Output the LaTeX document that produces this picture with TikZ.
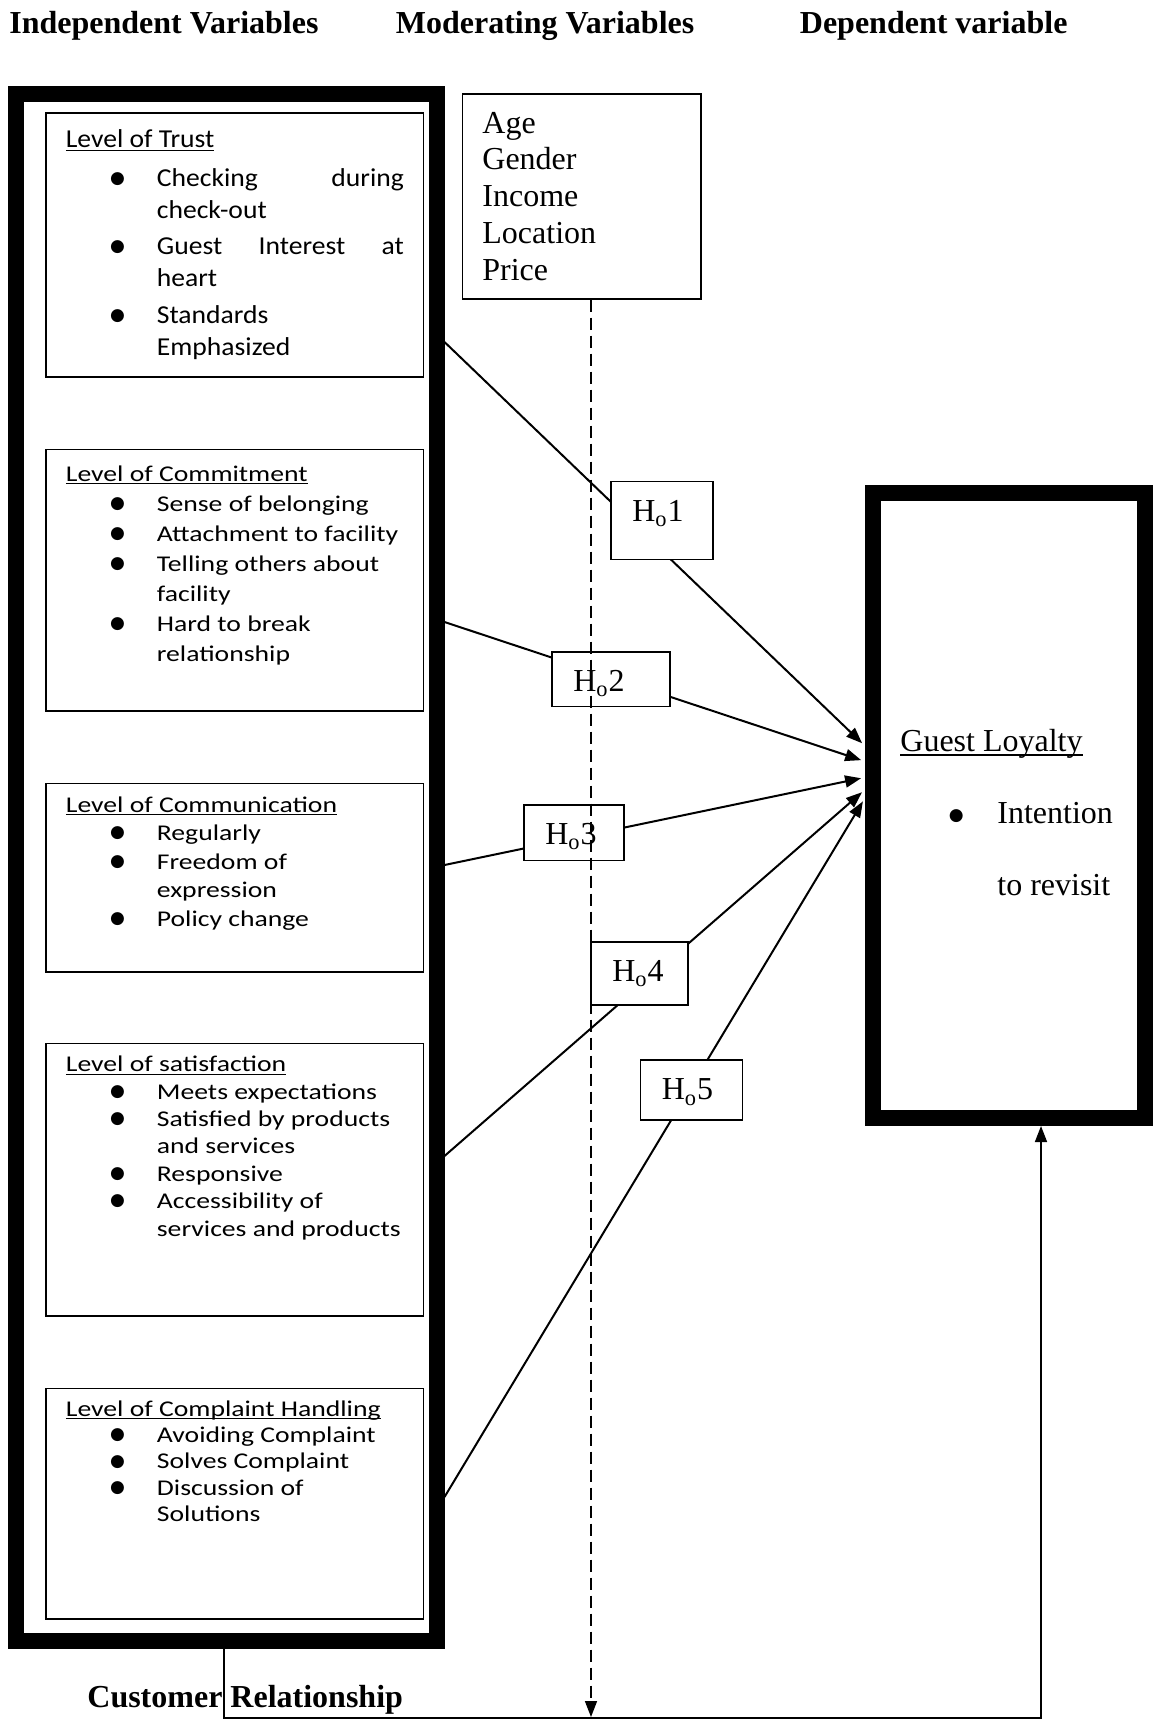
\documentclass[tikz,border=0pt]{standalone}
\usepackage{fontspec}
\setmainfont{Liberation Serif}
\newfontfamily\trustfont[FakeStretch=1.07]{Carlito}
\newfontfamily\boxfont[FakeStretch=1.23]{Carlito}
\newfontfamily\dotfont{DejaVu Sans}
\usetikzlibrary{arrows.meta}

\newcommand{\lineunder}[1]{\setbox0\hbox{#1}\rlap{\rule[-0.15em]{\wd0}{0.07em}}\box0}
\newcommand{\bigdot}{\raisebox{1.4pt}{\dotfont\fontsize{8.5pt}{8.5pt}\selectfont ●}}
\newcommand{\bul}{\makebox[45.5pt][l]{\hspace*{25.85pt}\makebox[0pt]{\bigdot}}}
\newcommand{\glbul}{\makebox[48.5pt][l]{\hspace*{28pt}\makebox[0pt]{\bigdot}}}

\tikzset{
  frame/.style={draw, line width=8pt, inner sep=0pt, anchor=north west},
  panel/.style={draw, line width=0.8pt, inner sep=0pt, anchor=north west},
  hyp/.style={panel, fill=white, align=left, text height=20pt, font=\fontsize{16pt}{19pt}\selectfont},
  txt/.style={anchor=base west, inner sep=0pt},
  head/.style={txt, font=\fontsize{16pt}{19pt}\selectfont\bfseries},
  link/.style={line width=1pt, shorten >=2pt, -{Triangle[length=8pt,width=6pt]}},
  guide/.style={line width=0.8pt, -{Triangle[length=8pt,width=6pt]}},
}

\begin{document}
\begin{tikzpicture}[x=0.5pt, y=-0.5pt]
  \useasboundingbox (0,0) rectangle (1155,1720);
  % Headings
  \node[head] (indep) at (9,33) {Independent Variables};
  \node[head] (moder) at (395.5,33) {Moderating Variables};
  \node[head] (depen) at (799.5,33) {Dependent variable};

  % Independent variables: thick frame and its five boxes
  \node[frame, minimum width=210.25pt, minimum height=773.5pt] (iv) at (8,85.5) {};
  \node[panel, minimum width=188.75pt, minimum height=132pt] (trust) at (45,112) {};
  \node[panel, minimum width=188.75pt, minimum height=130.7pt] (commit) at (45,448.6) {};
  \node[panel, minimum width=188.75pt, minimum height=94.25pt] (comm) at (45,782.5) {};
  \node[panel, minimum width=188.75pt, minimum height=136.15pt] (satis) at (45,1042.7) {};
  \node[panel, minimum width=188.75pt, minimum height=115.25pt] (compl) at (45,1387.5) {};

  \node[txt, font=\trustfont\fontsize{12.9pt}{16pt}\selectfont] (trusttxt) at (65.5,147.5) {\begin{tabular}[t]{@{}l@{}l@{}}
    \multicolumn{2}{@{}l@{}}{\lineunder{Level of Trust}}\\[3.25pt]
    \bul & \makebox[123.5pt][s]{Checking\hfill during}\\
     & check-out\\[2.3pt]
    \bul & \makebox[123.5pt][s]{Guest\hfill Interest\hfill at}\\
     & heart\\[2.3pt]
    \bul & Standards\\
     & Emphasized
  \end{tabular}};
  \node[txt, font=\boxfont\fontsize{11.25pt}{15pt}\selectfont] (committxt) at (65.5,481) {\begin{tabular}[t]{@{}l@{}l@{}}
    \multicolumn{2}{@{}l@{}}{\lineunder{Level of Commitment}}\\
    \bul & Sense of belonging\\
    \bul & Attachment to facility\\
    \bul & Telling others about\\
     & facility\\
    \bul & Hard to break\\
     & relationship
  \end{tabular}};
  \node[txt, font=\boxfont\fontsize{11.25pt}{14.25pt}\selectfont] (commtxt) at (65.5,812) {\begin{tabular}[t]{@{}l@{}l@{}}
    \multicolumn{2}{@{}l@{}}{\lineunder{Level of Communication}}\\
    \bul & Regularly\\
    \bul & Freedom of\\
     & expression\\
    \bul & Policy change
  \end{tabular}};
  \node[txt, font=\boxfont\fontsize{11.25pt}{13.7pt}\selectfont] (satistxt) at (65.5,1071.7) {\begin{tabular}[t]{@{}l@{}l@{}}
    \multicolumn{2}{@{}l@{}}{\lineunder{Level of satisfaction}}\\
    \bul & Meets expectations\\
    \bul & Satisfied by products\\
     & and services\\
    \bul & Responsive\\
    \bul & Accessibility of\\
     & services and products
  \end{tabular}};
  \node[txt, font=\boxfont\fontsize{11.25pt}{13.2pt}\selectfont] (compltxt) at (65.5,1416) {\begin{tabular}[t]{@{}l@{}l@{}}
    \multicolumn{2}{@{}l@{}}{\lineunder{Level of Complaint Handling}}\\
    \bul & Avoiding Complaint\\
    \bul & Solves Complaint\\
    \bul & Discussion of\\
     & Solutions
  \end{tabular}};

  % Moderating variables
  \node[panel, minimum width=119.25pt, minimum height=102.5pt] (mod) at (461.5,93) {};
  \node[txt, font=\fontsize{16pt}{18.375pt}\selectfont] (modtxt) at (482,133) {\begin{tabular}[t]{@{}l@{}}Age\\Gender\\Income\\Location\\Price\end{tabular}};

  % Dependent variable
  \node[frame, minimum width=136pt, minimum height=312.5pt] (gl) at (865,485) {};
  \node[txt, font=\fontsize{16pt}{36pt}\selectfont] (gltxt) at (900,751) {\begin{tabular}[t]{@{}l@{}l@{}}
    \multicolumn{2}{@{}l@{}}{\lineunder{Guest Loyalty}}\\
    \glbul & Intention\\
     & to revisit
  \end{tabular}};

  % Arrows from the frame to guest loyalty
  \coordinate (s1) at (iv.east |- 0,342);
  \coordinate (s2) at (iv.east |- 0,622);
  \coordinate (s3) at (iv.east |- 0,865);
  \coordinate (s4) at (iv.east |- 0,1156);
  \coordinate (s5) at (iv.east |- 0,1497);
  \coordinate (t1) at (gl.west |- 0,746);
  \coordinate (t2) at (gl.west |- 0,761.4);
  \coordinate (t3) at (gl.west |- 0,777.4);
  \coordinate (t4) at (gl.west |- 0,789.6);
  \coordinate (t5) at (gl.west |- 0,797.9);
  \foreach \i in {1,...,5}
    \draw[link] (s\i) -- (t\i);

  % Hypothesis boxes on top of the arrows
  \node[hyp, text width=51pt, text depth=19pt] (h1) at (610,480.5) {\hspace*{10.75pt}H\textsubscript{o}1};
  \node[hyp, text width=59pt, text depth=7.25pt] (h2) at (551,651) {\hspace*{10.75pt}H\textsubscript{o}2};
  \node[hyp, text width=50pt, text depth=7.75pt] (h3) at (523,804) {\hspace*{10.75pt}H\textsubscript{o}3};
  \node[hyp, text width=48.5pt, text depth=11.5pt] (h4) at (590,941) {\hspace*{10.75pt}H\textsubscript{o}4};
  \node[hyp, text width=51pt, text depth=10pt] (h5) at (639.5,1059) {\hspace*{10.75pt}H\textsubscript{o}5};

  % Dashed moderating line and the customer relationship loop
  \coordinate (cr1) at (224,1718);
  \coordinate (cr2) at (1041,1718);
  \coordinate (dashend) at (591,1717);
  \draw[guide, dash pattern=on 6pt off 3pt] (mod.south -| dashend) -- (dashend);
  \draw[guide] (iv.south -| cr1) |- (cr2) -- (gl.south -| cr2);
  \node[head] (custrel) at (87,1707) {Customer Relationship};
\end{tikzpicture}
\end{document}
